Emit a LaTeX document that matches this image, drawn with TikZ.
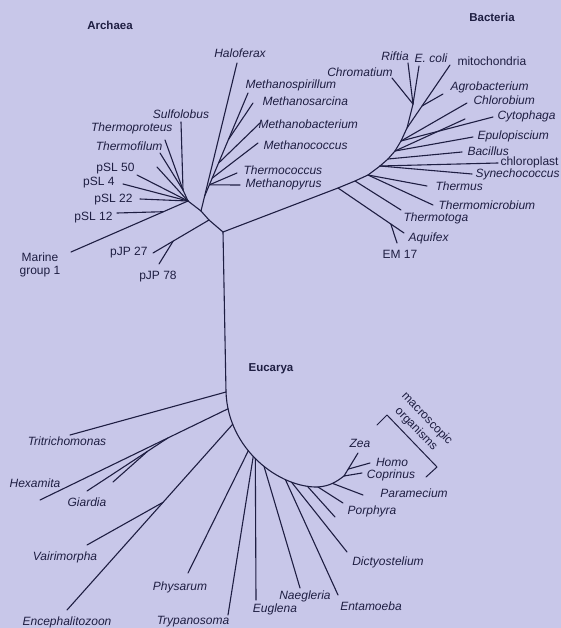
\documentclass[tikz,border=0pt]{standalone}
\usepackage{fontspec}
\setmainfont{Liberation Sans}
\usetikzlibrary{calc,positioning}
\definecolor{paper}{RGB}{200,199,233}
\definecolor{ink}{RGB}{30,30,66}

\begin{document}
\begin{tikzpicture}[x=1pt, y=-1pt, color=ink, line width=1.1pt,
      line cap=round, line join=round,
      every node/.append style={inner sep=1pt, font=\fontsize{12}{13}\selectfont},
      taxon/.style={font=\fontsize{12}{13}\selectfont\itshape},
      clone/.style={font=\fontsize{12}{13}\selectfont},
      realm/.style={font=\fontsize{11.5}{13}\selectfont\bfseries}]
    \useasboundingbox (0,0) rectangle (561,628);
    \fill[paper] (0,0) rectangle (561,628);

    \node[realm] (archaea) at (110,25) {Archaea};
    \node[realm] (bacteria) at (492,17) {Bacteria};
    \node[realm] (eucarya) at (271,369) {Eucarya};

    \coordinate (root) at (223,232);

    % Archaea
    \coordinate (a1) at (209,220);
    \coordinate (a2) at (201,211);
    \coordinate (cren) at (188,201);
    \draw (root) -- (a1) -- (a2) -- (cren);

    \coordinate (pjpa) at (153,253);
    \coordinate (pjpb) at (159,264);
    \coordinate (pj) at ($(a1)!0.64!(pjpa)$);
    \draw (a1) -- (pjpa);
    \draw (pj) -- (pjpb);
    \node[clone, anchor=east] (pjp27) at (149,253) {pJP 27};
    \node[clone] (pjp78) at (158,277) {pJP 78};

    \coordinate (mgx) at (71,252);
    \coordinate (mg) at ($(cren)!0.21!(mgx)$);
    \coordinate (psl12x) at (117,213);
    \coordinate (psl22x) at (140,199);
    \coordinate (psl4x) at (123,184);
    \coordinate (psl50x) at (137,175);
    \coordinate (crx) at (157,167);
    \coordinate (sfb) at (183,190);
    \coordinate (tflx) at (160,153);
    \coordinate (tprx) at (165,140);
    \coordinate (sulx) at (181,122);
    \draw (cren) -- (mgx);
    \draw (mg) -- (psl12x);
    \foreach \t in {psl22x,psl4x,psl50x,crx,sfb}
      \draw (cren) -- (\t);
    \foreach \t in {tflx,tprx,sulx}
      \draw (sfb) -- (\t);
    \node[clone, align=center] (marine) at (40,265) {Marine\\group 1};
    \node[clone, anchor=east] (psl12) at (114,218) {pSL 12};
    \node[clone, anchor=east] (psl22) at (134,200) {pSL 22};
    \node[clone, anchor=east] (psl4) at (116,183) {pSL 4};
    \node[clone, anchor=east] (psl50) at (136,169) {pSL 50};
    \node[taxon, anchor=east] (tfl) at (164,146) {Thermofilum};
    \node[taxon, anchor=east] (tpr) at (174,128) {Thermoproteus};
    \node[taxon] (sul) at (181,114) {Sulfolobus};

    \coordinate (hfxx) at (237,63);
    \coordinate (eury) at ($(a2)!0.1!(hfxx)$);
    \coordinate (mspx) at (248,93);
    \draw (a2) -- (hfxx);
    \draw (eury) -- (mspx);
    \coordinate (tc) at ($(eury)!0.11!(mspx)$);
    \coordinate (mcc) at ($(eury)!0.175!(mspx)$);
    \coordinate (mbc) at ($(eury)!0.32!(mspx)$);
    \coordinate (msc) at ($(eury)!0.55!(mspx)$);
    \coordinate (tccx) at (237,173);
    \coordinate (mpyx) at (240,185);
    \coordinate (mccx) at (258,143);
    \coordinate (mbcx) at (260,123);
    \coordinate (mscx) at (253,103);
    \draw (tc) -- (tccx);
    \draw (tc) -- (mpyx);
    \draw (mcc) -- (mccx);
    \draw (mbc) -- (mbcx);
    \draw (msc) -- (mscx);
    \node[taxon] (hfx) at (240,53) {Haloferax};
    \node[taxon, anchor=west] (msp) at (244,85) {Methanospirillum};
    \node[taxon, anchor=west] (msr) at (261,101) {Methanosarcina};
    \node[taxon, anchor=west] (mbt) at (257,124) {Methanobacterium};
    \node[taxon, anchor=west] (mco) at (262,145) {Methanococcus};
    \node[taxon, anchor=west] (tco) at (242,170) {Thermococcus};
    \node[taxon, anchor=west] (mpy) at (244,184) {Methanopyrus};

    % Bacteria
    \coordinate (b1) at (338,188);
    \coordinate (b2) at (355,181);
    \coordinate (b3) at (368,175);
    \coordinate (b4) at (380,166);
    \coordinate (b5) at (388,159);
    \coordinate (b6) at (395,151);
    \coordinate (b7) at (401,141);
    \coordinate (b8) at (407,128);
    \coordinate (b9) at (413,104);
    \draw (root) -- (b1) -- (b2) -- (b3) -- (b4) -- (b5) -- (b6) -- (b7) -- (b8) -- (b9);

    \coordinate (aqx) at (404,233);
    \coordinate (em) at ($(b1)!0.8!(aqx)$);
    \coordinate (emx) at (397,243);
    \draw (b1) -- (aqx);
    \draw (em) -- (emx);
    \coordinate (ttgx) at (401,210);
    \coordinate (tmbx) at (433,205);
    \coordinate (thsx) at (427,186);
    \coordinate (synx) at (472,174);
    \coordinate (chlx) at (498,163);
    \coordinate (bacx) at (462,152);
    \coordinate (epux) at (473,137);
    \coordinate (bux) at (465,119);
    \coordinate (cytx) at (493,117);
    \coordinate (chbx) at (467,103);
    \coordinate (mitx) at (450,65);
    \coordinate (agr) at ($(b8)!0.35!(mitx)$);
    \coordinate (agrx) at (443,94);
    \coordinate (chrx) at (392,78);
    \coordinate (rifx) at (408,63);
    \coordinate (ecox) at (419,66);
    \draw (b2) -- (ttgx);
    \draw (b3) -- (tmbx);
    \draw (b3) -- (thsx);
    \draw (b4) -- (synx);
    \draw (b4) -- (chlx);
    \draw (b5) -- (bacx);
    \draw (b6) -- (epux);
    \draw (b6) -- (bux);
    \draw (b7) -- (cytx);
    \draw (b7) -- (chbx);
    \draw (b8) -- (mitx);
    \draw (agr) -- (agrx);
    \foreach \t in {chrx,rifx,ecox}
      \draw (b9) -- (\t);
    \node[taxon] (chr) at (360,72) {Chromatium};
    \node[taxon] (rif) at (395,56) {Riftia};
    \node[taxon] (eco) at (431,58) {E. coli};
    \node[clone, anchor=west] (mit) at (456,61) {mitochondria};
    \node[taxon, anchor=west] (agb) at (449,87) {Agrobacterium};
    \node[taxon, anchor=west] (chb) at (472,100) {Chlorobium};
    \node[taxon, anchor=west] (cyt) at (496,116) {Cytophaga};
    \node[taxon, anchor=west] (epu) at (476,136) {Epulopiscium};
    \node[taxon, anchor=west] (bac) at (466,151) {Bacillus};
    \node[clone, anchor=west] (chl) at (499,162) {chloroplast};
    \node[taxon, anchor=west] (syn) at (474,174) {Synechococcus};
    \node[taxon, anchor=west] (ths) at (434,186) {Thermus};
    \node[taxon, anchor=west] (tmb) at (437,205) {Thermomicrobium};
    \node[taxon, anchor=west] (ttg) at (402,218) {Thermotoga};
    \node[taxon, anchor=west] (aqu) at (407,238) {Aquifex};
    \node[clone] (em17) at (400,254) {EM 17};

    % Eucarya
    \draw (root) -- (226,392) coordinate (eu0)
      .. controls (228,450) and (280,488) .. (318,487)
      coordinate[pos=0.1] (eu1) coordinate[pos=0.2] (eu2)
      coordinate[pos=0.4] (eu3) coordinate[pos=0.45] (eu4)
      coordinate[pos=0.47] (eu5) coordinate[pos=0.55] (eu6)
      coordinate[pos=0.73] (eu7) coordinate[pos=0.78] (eu8)
      coordinate[pos=0.91] (eu9) coordinate (eu10)
      .. controls (330,486) and (336,482) .. (344,476)
      coordinate[pos=0.5] (eu11) coordinate (zea0);

    \coordinate (trix) at (70,435);
    \coordinate (hexx) at (40,500);
    \coordinate (hx) at ($(eu1)!0.32!(hexx)$);
    \coordinate (giax) at (87,491);
    \coordinate (gx) at ($(hx)!0.25!(giax)$);
    \coordinate (gsx) at (113,482);
    \coordinate (encx) at (67,610);
    \coordinate (vx) at ($(eu2)!0.42!(encx)$);
    \coordinate (vaix) at (87,545);
    \coordinate (physx) at (188,573);
    \coordinate (trpx) at (228,615);
    \coordinate (eglx) at (256,600);
    \coordinate (naex) at (300,588);
    \coordinate (entx) at (338,595);
    \coordinate (dicx) at (347,552);
    \coordinate (porx) at (335,517);
    \coordinate (eux) at (343,503);
    \coordinate (parx) at (363,495);
    \coordinate (zeax) at (358,453);
    \coordinate (hm) at ($(zea0)!0.3!(zeax)$);
    \coordinate (homx) at (370,463);
    \coordinate (copx) at (362,473);
    \draw (eu0) -- (trix);
    \draw (eu1) -- (hexx);
    \draw (hx) -- (giax);
    \draw (gx) -- (gsx);
    \draw (eu2) -- (encx);
    \draw (vx) -- (vaix);
    \draw (eu3) -- (physx);
    \draw (eu4) -- (trpx);
    \draw (eu5) -- (eglx);
    \draw (eu6) -- (naex);
    \draw (eu7) -- (entx);
    \draw (eu8) -- (dicx);
    \draw (eu9) -- (porx);
    \draw (eu10) -- (eux);
    \draw (eu11) -- (parx);
    \draw (zea0) -- (zeax);
    \draw (hm) -- (homx);
    \draw (zea0) -- (copx);
    \node[taxon] (tri) at (67,441) {Tritrichomonas};
    \node[taxon] (hex) at (35,483) {Hexamita};
    \node[taxon] (gia) at (87,502) {Giardia};
    \node[taxon] (vai) at (65,557) {Vairimorpha};
    \node[taxon] (enc) at (67,622) {Encephalitozoon};
    \node[taxon] (phy) at (180,587) {Physarum};
    \node[taxon] (trp) at (193,622) {Trypanosoma};
    \node[taxon] (egl) at (275,609) {Euglena};
    \node[taxon] (nae) at (305,596) {Naegleria};
    \node[taxon] (ent) at (371,606) {Entamoeba};
    \node[taxon] (dic) at (388,562) {Dictyostelium};
    \node[taxon] (por) at (372,511) {Porphyra};
    \node[taxon] (par) at (414,493) {Paramecium};
    \node[taxon] (cop) at (391,475) {Coprinus};
    \node[taxon] (hom) at (392,462) {Homo};
    \node[taxon] (zea) at (360,443) {Zea};

    \coordinate (br1) at (377,425);
    \coordinate (br2) at (387,415);
    \coordinate (br3) at (437,467);
    \coordinate (br4) at (426,477);
    \draw[line width=1pt] (br1) -- (br2) -- (br3) -- (br4);
    \node[clone, align=center, rotate=-46, font=\fontsize{12}{15}\selectfont]
      (macro) at (421.5,424) {macroscopic\\organisms};
  \end{tikzpicture}
\end{document}
